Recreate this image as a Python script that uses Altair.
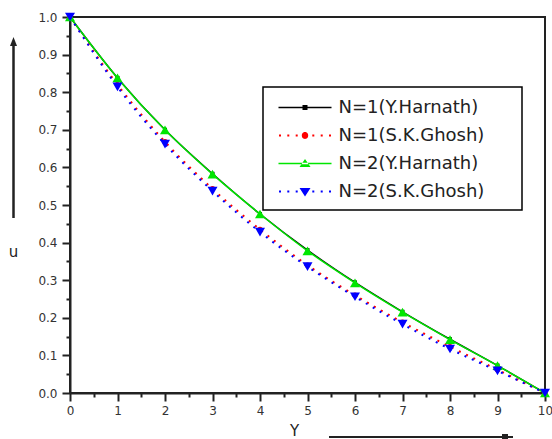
import altair as alt
import pandas as pd

# ---------------- data ----------------
x_vals = [0, 1, 2, 3, 4, 5, 6, 7, 8, 9, 10]
u_n1_harnath = [1.0, 0.838, 0.700, 0.583, 0.476, 0.380, 0.294, 0.216, 0.143, 0.073, 0.0]
u_n1_ghosh = [1.0, 0.820, 0.668, 0.543, 0.435, 0.340, 0.260, 0.188, 0.123, 0.062, 0.0]
u_n2_harnath = [1.0, 0.838, 0.700, 0.582, 0.476, 0.378, 0.293, 0.215, 0.142, 0.073, 0.0]
u_n2_ghosh = [1.0, 0.814, 0.662, 0.537, 0.428, 0.336, 0.256, 0.183, 0.117, 0.059, 0.0]
series_names = ["N=1(Y.Harnath)", "N=1(S.K.Ghosh)", "N=2(Y.Harnath)", "N=2(S.K.Ghosh)"]
series_values = [u_n1_harnath, u_n1_ghosh, u_n2_harnath, u_n2_ghosh]

rows = []
for name, vals in zip(series_names, series_values):
    for xv, uv in zip(x_vals, vals):
        rows.append({"series": name, "Y": xv, "u": uv})
df = pd.DataFrame(rows)

# ---------------- styles ----------------
colors = ["#000000", "#ff0000", "#00e600", "#0000ff"]
dashes = [None, [2, 6], None, [2, 6]]
widths = [1.5, 2, 1.5, 2]
shapes = ["square", "circle", "triangle-up", "triangle-down"]
msizes = [16, 30, 100, 100]
FONT = "DejaVu Sans"
DARK = "#222222"

y_ticks = [round(i * 0.05, 2) for i in range(21)]
x_ticks = [i * 0.5 for i in range(21)]

X = alt.X("Y:Q", scale=alt.Scale(domain=[0, 10], nice=False),
          axis=alt.Axis(values=x_ticks, title="Y", grid=False,
                        labelExpr="datum.value % 1 == 0 ? format(datum.value, 'd') : ''",
                        labelFlush=False, labelOverlap=False, labelPadding=4,
                        tickSize={"condition": {"test": "datum.value % 1 == 0", "value": 8}, "value": 4},
                        titleX=224, titleY=37, titleBaseline="middle", titleAlign="center"))
Yenc = alt.Y("u:Q", scale=alt.Scale(domain=[0, 1], nice=False),
             axis=alt.Axis(values=y_ticks, title="u", grid=False,
                           labelExpr="round(datum.value*100) % 10 == 0 ? format(datum.value, '.1f') : ''",
                           labelOverlap=False, labelFlush=False, labelPadding=5,
                           tickSize={"condition": {"test": "round(datum.value*100) % 10 == 0", "value": 8}, "value": 4},
                           titleAngle=0, titleX=-57, titleY=234, titleBaseline="middle",
                           titleAlign="center"))

layers = []
for name, c, d, w, shp, ms in zip(series_names, colors, dashes, widths, shapes, msizes):
    base = alt.Chart(df).transform_filter(alt.datum.series == name)
    if d:
        line = base.mark_line(color=c, strokeWidth=w, strokeDash=d, strokeCap="butt", interpolate="monotone")
    else:
        line = base.mark_line(color=c, strokeWidth=w, interpolate="monotone")
    layers.append(line.encode(x=X, y=Yenc))
    layers.append(base.mark_point(shape=shp, filled=True, size=ms, color=c, opacity=1).encode(x=X, y=Yenc))

# ---------------- legend (custom symbols: line + marker) ----------------
U = 11.0  # legend symbol unit = sqrt(484)/2


def pt(px, py):
    return f"{(px - 11) / U:.3f},{py / U:.3f}"


def rect(x0, x1, y0, y1):
    return f"M{pt(x0, y0)}L{pt(x1, y0)}L{pt(x1, y1)}L{pt(x0, y1)}Z"


LX0, LX1 = 6, 59
CX = (LX0 + LX1) / 2
solid = rect(LX0, LX1, -0.8, 0.8)
dots = "".join(rect(CX + o - 1, CX + o + 1, -1, 1) for o in [-25, -16.7, -8.3, 8.3, 16.7, 25])
sq = rect(CX - 2.5, CX + 2.5, -2.5, 2.5)
r = 3.2 / U
circ = (f"M{pt(CX - 3.2, 0)}A{r:.3f},{r:.3f},0,1,0,{pt(CX + 3.2, 0)}"
        f"A{r:.3f},{r:.3f},0,1,0,{pt(CX - 3.2, 0)}Z")
tri_up = f"M{pt(CX - 5.5, 3.5)}L{pt(CX + 5.5, 3.5)}L{pt(CX, -4.5)}Z"
tri_dn = f"M{pt(CX - 5.5, -3.5)}L{pt(CX + 5.5, -3.5)}L{pt(CX, 5)}Z"
legend_paths = [solid + sq, dots + circ, solid + tri_up, dots + tri_dn]

leg = alt.Legend(orient="none", legendX=193, legendY=70, padding=9.5, rowPadding=8,
                 fillColor="white", strokeColor="#000000",
                 labelFont=FONT, labelFontSize=18, labelColor=DARK, labelOffset=44,
                 labelLimit=400,
                 symbolSize=484, symbolStrokeWidth=0, symbolOpacity=1,
                 titleOrient="right", titlePadding=28, titleFontSize=2)
legend_layer = alt.Chart(df).transform_filter("false").mark_point(filled=True).encode(
    x=alt.value(0), y=alt.value(0),
    color=alt.Color("series:N", title=" ", scale=alt.Scale(domain=series_names, range=colors), legend=leg),
    shape=alt.Shape("series:N", title=" ", scale=alt.Scale(domain=series_names, range=legend_paths), legend=leg),
)

# ---------------- axis arrows (decoration) ----------------
one = pd.DataFrame({"k": [0]})
up_rule = alt.Chart(one).mark_rule(color=DARK, strokeWidth=2.5).encode(
    x=alt.value(-56.5), y=alt.value(28), y2=alt.value(201))
up_head = alt.Chart(one).mark_point(shape="M0,-1.6L-1,1L1,1Z", filled=True, size=49, color=DARK, opacity=1).encode(
    x=alt.value(-56.5), y=alt.value(25.6))
right_rule = alt.Chart(one).mark_rule(color=DARK, strokeWidth=2).encode(
    x=alt.value(259), x2=alt.value(443), y=alt.value(420))
right_sq = alt.Chart(one).mark_point(shape="square", filled=True, size=36, color=DARK, opacity=1).encode(
    x=alt.value(435), y=alt.value(420))

chart = alt.layer(*layers, legend_layer, up_rule, up_head, right_rule, right_sq).properties(
    width=475, height=376,
    autosize=alt.AutoSizeParams(type="none"),
    padding={"left": 70, "top": 17, "right": 7, "bottom": 46},
).configure(
    background="white"
).configure_view(
    stroke=DARK, strokeWidth=2
).configure_axis(
    domainColor=DARK, domainWidth=2, tickColor=DARK, tickWidth=2,
    labelFont=FONT, labelFontSize=12, labelColor="#333333",
    titleFont=FONT, titleFontSize=15, titleFontWeight="normal", titleColor=DARK,
).configure_legend(
    strokeColor="#000000", strokeWidth=1.5, cornerRadius=0
)

chart.save("out.html", embed_options={"renderer": "svg", "actions": False})
